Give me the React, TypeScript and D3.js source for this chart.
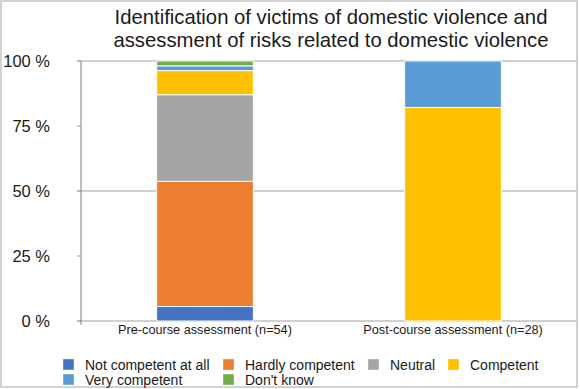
import React from "react";
import * as d3 from "d3";

const categories = ["Pre-course assessment (n=54)", "Post-course assessment (n=28)"];
const seriesNames = ["Not competent at all", "Hardly competent", "Neutral", "Competent", "Very competent", "Don't know"];
const seriesColors = ["#4472C4", "#ED7D31", "#A5A5A5", "#FFC000", "#5B9BD5", "#70AD47"];
// percentages per category, per series (same order as seriesNames)
const notCompetent = [5.56, 0];
const hardlyCompetent = [48.15, 0];
const neutral = [33.33, 0];
const competent = [9.26, 82.14];
const veryCompetent = [1.85, 17.86];
const dontKnow = [1.85, 0];
const yTicks = [0, 25, 50, 75, 100];
const gridTicks = [0, 50, 100];
const titleLines = [
  "Identification of victims of domestic violence and",
  "assessment of risks related to domestic violence",
];

const W = 580;
const H = 389;
const FONT = "'Liberation Sans', Arial, sans-serif";

export default function App() {
  const series = [notCompetent, hardlyCompetent, neutral, competent, veryCompetent, dontKnow];
  const plotLeft = 81;
  const plotRight = 577;
  const plotTop = 61;
  const plotBottom = 321;

  const x = d3.scaleBand<string>().domain(categories).range([plotLeft, plotRight]).paddingInner(0.61).paddingOuter(0.305);
  const y = d3.scaleLinear().domain([0, 100]).range([plotBottom, plotTop]);

  const rows = categories.map((c, i) => {
    const r: any = { cat: c };
    seriesNames.forEach((s, j) => (r[s] = series[j][i]));
    return r;
  });
  const stacked = d3.stack<any>().keys(seriesNames)(rows);

  const legendCols = [63, 223, 368, 448];
  const legendPos = [
    [0, 0], [1, 0], [2, 0], [3, 0], [0, 1], [1, 1],
  ];

  return (
    <svg width={W} height={H} style={{ position: "absolute", left: 0, top: 0, fontFamily: FONT }}>
      <rect x={0} y={0} width={W} height={H} fill="#fff" />
      <rect x={1} y={1} width={576} height={386} fill="none" stroke="#c4c4c4" strokeWidth={1.5} />
      {titleLines.map((t, i) => (
        <text key={i} x={331} y={24 + i * 23} textAnchor="middle" fontSize={20.3} fill="#1a1a1a">{t}</text>
      ))}
      {gridTicks.map((t) => (
        <line key={t} x1={plotLeft - 4} x2={plotRight} y1={y(t)} y2={y(t)} stroke="#c0c0c0" strokeWidth={1.5} />
      ))}
      {yTicks.map((t) => (
        <g key={t}>
          <line x1={plotLeft - 4} x2={plotLeft} y1={y(t)} y2={y(t)} stroke="#a0a0a0" strokeWidth={1} />
          <text x={50} y={y(t)} dy="0.35em" textAnchor="end" fontSize={16.5} fill="#1a1a1a">{t} %</text>
        </g>
      ))}
      {stacked.map((s, j) => (
        <g key={s.key} fill={seriesColors[j]}>
          {s.map((d, i) =>
            d[1] - d[0] > 0 ? (
              <rect key={i} x={x(categories[i])} y={y(d[1])} width={x.bandwidth()} height={y(d[0]) - y(d[1])} stroke="#fff" strokeWidth={1} />
            ) : null
          )}
        </g>
      ))}
      <line x1={plotLeft} x2={plotLeft} y1={plotTop} y2={plotBottom + 4} stroke="#808080" strokeWidth={1} />
      {categories.map((c) => (
        <text key={c} x={(x(c) as number) + x.bandwidth() / 2} y={334} textAnchor="middle" fontSize={12.7} fill="#1a1a1a">{c}</text>
      ))}
      {seriesNames.map((s, j) => {
        const [col, row] = legendPos[j];
        const lx = legendCols[col];
        const ly = 359 + row * 15;
        return (
          <g key={s}>
            <rect x={lx} y={ly} width={11} height={11} fill={seriesColors[j]} stroke="#fff" strokeOpacity={0.4} strokeWidth={1} />
            <text x={lx + 22} y={ly + 11} fontSize={14} fill="#1a1a1a">{s}</text>
          </g>
        );
      })}
    </svg>
  );
}
